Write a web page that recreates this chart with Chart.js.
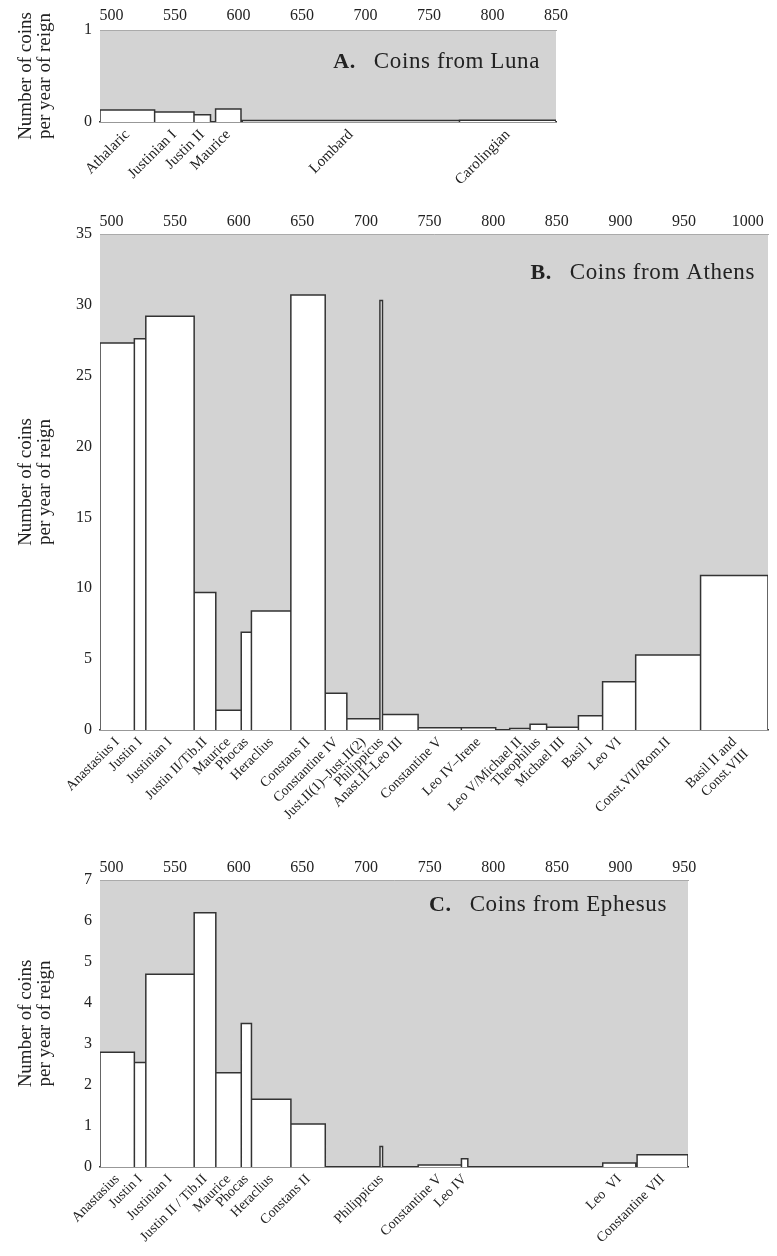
<!DOCTYPE html>
<html>
<head>
<meta charset="utf-8">
<script src="https://cdn.jsdelivr.net/npm/chart.js@4.4.0/dist/chart.umd.min.js"></script>
<style>
  body { margin: 0; background: #fff; width: 777px; height: 1256px; overflow: hidden; position: relative; }
  canvas { position: absolute; left: 0; }
</style>
</head>
<body>
<canvas id="luna" width="777" height="200" style="top:0px"></canvas>
<canvas id="athens" width="777" height="640" style="top:200px"></canvas>
<canvas id="ephesus" width="777" height="416" style="top:840px"></canvas>
<script>
// A. Luna
var lunaLabels = ['Athalaric', 'Justinian I', 'Justin II', 'Maurice', 'Lombard', 'Carolingian'];
var lunaStart  = [491, 534, 565, 582, 603, 774];
var lunaEnd    = [534, 565, 578, 602, 774, 850];
var lunaValues = [0.13, 0.11, 0.08, 0.14, 0.015, 0.02];
var lunaYears  = [500, 550, 600, 650, 700, 750, 800, 850];
var lunaYTicks = [0, 1];

// B. Athens
var athensLabels = ['Anastasius I', 'Justin I', 'Justinian I', 'Justin II/Tib.II', 'Maurice', 'Phocas',
  'Heraclius', 'Constans II', 'Constantine IV', 'Just.II(1)–Just.II(2)', 'Philippicus', 'Anast.II–Leo III',
  'Constantine V', 'Leo IV–Irene', 'Leo V/Michael II', 'Theophilus', 'Michael III', 'Basil I', 'Leo VI',
  'Const.VII/Rom.II', ['Basil II and', 'Const.VIII']];
var athensStart  = [491, 518, 527, 565, 582, 602, 610, 641, 668, 685, 711, 713, 741, 775, 813, 829, 842, 867, 886, 912, 963];
var athensEnd    = [518, 527, 565, 582, 602, 610, 641, 668, 685, 711, 713, 741, 775, 802, 829, 842, 867, 886, 912, 963, 1016];
var athensValues = [27.3, 27.6, 29.2, 9.7, 1.4, 6.9, 8.4, 30.7, 2.6, 0.8, 30.3, 1.1, 0.15, 0.15, 0.1, 0.4, 0.2, 1.0, 3.4, 5.3, 10.9];
var athensYears  = [500, 550, 600, 650, 700, 750, 800, 850, 900, 950, 1000];
var athensYTicks = [0, 5, 10, 15, 20, 25, 30, 35];

// C. Ephesus
var ephesusLabels = ['Anastasius', 'Justin I', 'Justinian I', 'Justin II / Tib.II', 'Maurice', 'Phocas',
  'Heraclius', 'Constans II', 'Philippicus', 'Constantine V', 'Leo IV', 'Leo  VI', 'Constantine VII'];
var ephesusStart  = [491, 518, 527, 565, 582, 602, 610, 641, 711, 741, 775, 886, 913];
var ephesusEnd    = [518, 527, 565, 582, 602, 610, 641, 668, 713, 775, 780, 912, 953];
var ephesusValues = [2.8, 2.55, 4.7, 6.2, 2.3, 3.5, 1.65, 1.05, 0.5, 0.05, 0.2, 0.1, 0.3];
var ephesusYears  = [500, 550, 600, 650, 700, 750, 800, 850, 900, 950];
var ephesusYTicks = [0, 1, 2, 3, 4, 5, 6, 7];

var serif = 'Liberation Serif';
var ink = '#222';

var panelBackground = {
    id: 'panelBackground',
    beforeDraw: function(chart) {
        var a = chart.chartArea, ctx = chart.ctx;
        ctx.save();
        ctx.fillStyle = '#d3d3d3';
        ctx.fillRect(a.left, a.top, a.right - a.left, a.bottom - a.top);
        ctx.restore();
    }
};

var panelTitle = {
    id: 'panelTitle',
    afterDraw: function(chart, args, opts) {
        var a = chart.chartArea, ctx = chart.ctx;
        ctx.save();
        ctx.fillStyle = ink;
        ctx.textBaseline = 'middle';
        ctx.textAlign = 'right';
        ctx.letterSpacing = '0.6px';
        ctx.font = '23px "' + serif + '"';
        var x = a.right - opts.right, y = a.top + opts.down;
        ctx.fillText(opts.text, x, y);
        var w = ctx.measureText(opts.text).width;
        ctx.font = 'bold 22px "' + serif + '"';
        ctx.fillText(opts.letter, x - w - 18, y);
        ctx.restore();
    }
};

function makePanel(id, p) {
    var pts = [];
    p.starts.forEach(function(s, i) {
        pts.push({x: s, y: 0}, {x: s, y: p.values[i]}, {x: p.ends[i], y: p.values[i]}, {x: p.ends[i], y: 0});
    });
    var centers = p.starts.map(function(s, i) { return (s + p.ends[i]) / 2; });

    return new Chart(document.getElementById(id).getContext('2d'), {
        type: 'line',
        data: {
            datasets: [{
                data: pts,
                borderColor: '#333',
                borderWidth: 1.5,
                backgroundColor: '#ffffff',
                fill: 'origin',
                pointRadius: 0,
                tension: 0
            }]
        },
        options: {
            responsive: false,
            animation: false,
            layout: { padding: { left: 0, top: 0, bottom: 0, right: p.padRight } },
            plugins: {
                legend: { display: false },
                tooltip: { enabled: false },
                panelTitle: { text: p.title, letter: p.letter, right: p.titleRight, down: p.titleDown }
            },
            scales: {
                x: {
                    type: 'linear', position: 'bottom', min: p.min, max: p.max,
                    afterBuildTicks: function(s) { s.ticks = centers.map(function(v) { return {value: v}; }); },
                    afterFit: function(s) { s.height = p.bottomH; s.paddingLeft = 0; s.paddingRight = 0; },
                    grid: { drawOnChartArea: false, drawTicks: false },
                    border: { color: '#333', width: 1.5 },
                    ticks: {
                        autoSkip: false, minRotation: 45, maxRotation: 45, padding: 4,
                        font: { family: serif, size: p.labelSize }, color: ink,
                        callback: function(v, i) { return p.labels[i]; }
                    }
                },
                top: {
                    type: 'linear', axis: 'x', position: 'top', min: p.min, max: p.max,
                    afterBuildTicks: function(s) { s.ticks = p.years.map(function(v) { return {value: v}; }); },
                    afterFit: function(s) { s.height = p.topH; s.paddingLeft = 0; s.paddingRight = 0; },
                    grid: { drawOnChartArea: false, drawTicks: false },
                    border: { color: '#aaa' },
                    ticks: {
                        padding: p.topPad, font: { family: serif, size: 16 }, color: ink,
                        callback: function(v) { return String(v); }
                    }
                },
                y: {
                    min: 0, max: p.ymax,
                    afterBuildTicks: function(s) { s.ticks = p.yTicks.map(function(v) { return {value: v}; }); },
                    afterFit: function(s) { s.width = 100; },
                    grid: { drawOnChartArea: false, drawTicks: false },
                    border: { display: false },
                    ticks: { padding: 8, font: { family: serif, size: 16 }, color: ink },
                    title: {
                        display: true, text: ['Number of coins', 'per year of reign'], color: ink,
                        font: { family: serif, size: 19, lineHeight: 1.0 },
                        padding: { top: 17, bottom: 0 }
                    }
                }
            }
        },
        plugins: [panelBackground, panelTitle]
    });
}

makePanel('luna', {
    labels: lunaLabels, starts: lunaStart, ends: lunaEnd, values: lunaValues,
    years: lunaYears, yTicks: lunaYTicks, min: 491, max: 850, ymax: 1,
    padRight: 221, topH: 30, bottomH: 78, labelSize: 15, topPad: 5,
    title: 'Coins from Luna', letter: 'A.', titleRight: 16, titleDown: 32
});

makePanel('athens', {
    labels: athensLabels, starts: athensStart, ends: athensEnd, values: athensValues,
    years: athensYears, yTicks: athensYTicks, min: 491, max: 1016, ymax: 35,
    padRight: 9, topH: 34, bottomH: 110, labelSize: 14, topPad: 3,
    title: 'Coins from Athens', letter: 'B.', titleRight: 13, titleDown: 39
});

makePanel('ephesus', {
    labels: ephesusLabels, starts: ephesusStart, ends: ephesusEnd, values: ephesusValues,
    years: ephesusYears, yTicks: ephesusYTicks, min: 491, max: 953, ymax: 7,
    padRight: 89, topH: 40, bottomH: 89, labelSize: 14, topPad: 3,
    title: 'Coins from Ephesus', letter: 'C.', titleRight: 21, titleDown: 25
});
</script>
</body>
</html>
